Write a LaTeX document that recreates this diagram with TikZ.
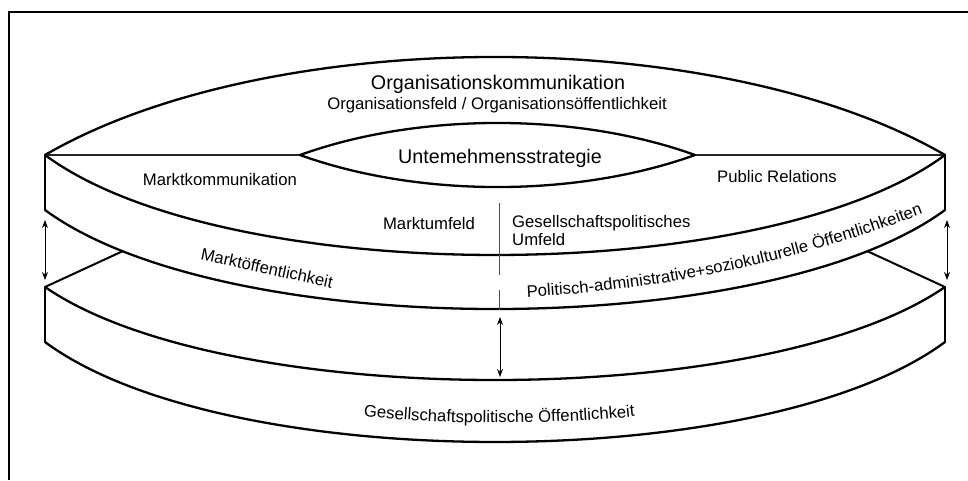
\documentclass[tikz,border=0pt]{standalone}
\usepackage{fontspec}
\setmainfont{Liberation Sans}
\usetikzlibrary{arrows.meta,decorations.text}
\begin{document}
\begin{tikzpicture}[x=1pt,y=-1pt,
  arcline/.style={line width=2.3pt, line join=round, line cap=round},
  thinline/.style={line width=1.3pt, black!85},
  sideline/.style={line width=2pt},
  framestroke/.style={line width=2.3pt},
  dbl/.style={line width=0.9pt, {Stealth[length=8pt,width=6pt]}-{Stealth[length=8pt,width=6pt]}},
  midline/.style={line width=0.9pt, black!70},
  lbl/.style={font=\fontsize{16.7}{19}\selectfont, inner sep=0pt},
  titletext/.style={font=\fontsize{19.7}{23}\selectfont, inner sep=0pt},
]
\useasboundingbox (0,0) rectangle (968,480);
\fill[white] (0,0) rectangle (968,480);

% frame
\coordinate (f1) at (9,480);
\coordinate (f2) at (9,12);
\coordinate (f3) at (968,12);
\draw[framestroke] (f1) -- (f2) -- (f3);

% key points
\coordinate (OL) at (45,155);
\coordinate (OR) at (945,155);
\coordinate (IL) at (300,155);
\coordinate (IR) at (695,155);
\coordinate (BL) at (45,210);
\coordinate (BR) at (945,210);
\coordinate (CL) at (45,287);
\coordinate (CR) at (945,287);
\coordinate (DL) at (45,342);
\coordinate (DR) at (945,342);

% outer top lens
\draw[arcline] (OL) .. controls (270,24.3) and (720,24.3) .. (OR);
% horizontal lines
\draw[thinline] (OL) -- (IL);
\draw[thinline] (IR) -- (OR);
% inner lens
\draw[arcline] (IL) .. controls (418.5,112.3) and (576.5,112.3) .. (IR);
\draw[arcline] (IL) .. controls (418.5,197.7) and (576.5,197.7) .. (IR);

% band curves
\draw[arcline] (OL) .. controls (225,288.3) and (765,288.3) .. (OR);
\draw[arcline] (BL) .. controls (225,342) and (765,342) .. (BR)
   coordinate[pos=0.118] (ML) coordinate[pos=0.882] (MR);
\draw[arcline] (CL) .. controls (225,411) and (765,411) .. (CR);
\draw[arcline] (DL) .. controls (225,475.3) and (765,475.3) .. (DR);

% vertical edges
\draw[sideline] (OL) -- (BL);
\draw[sideline] (OR) -- (BR);
\draw[sideline] (CL) -- (DL);
\draw[sideline] (CR) -- (DR);

% hidden top edge of lower disc
\draw[sideline] (CL) -- (ML);
\draw[sideline] (CR) -- (MR);

% central divider
\coordinate (d1) at (499,203);
\coordinate (d2) at (499,275);
\coordinate (d3) at (499,290);
\coordinate (d4) at (499,310);
\draw[midline] (d1) -- (d2);
\draw[midline] (d3) -- (d4);

% double arrows
\coordinate (la1) at (45,220);
\coordinate (la2) at (45,280);
\coordinate (ra1) at (947,220);
\coordinate (ra2) at (947,280);
\coordinate (ca1) at (500,317);
\coordinate (ca2) at (500,377);
\draw[dbl] (la1) -- (la2);
\draw[dbl] (ra1) -- (ra2);
\draw[dbl] (ca1) -- (ca2);

% labels
\node[titletext, anchor=base] (t1) at (498,89) {Organisationskommunikation};
\node[lbl, anchor=base] (t2) at (497,109) {Organisationsfeld / Organisationsöffentlichkeit};
\node[titletext, anchor=base] (t3) at (500,163) {Untemehmensstrategie};
\node[lbl, anchor=base] (t4) at (220,185) {Marktkommunikation};
\node[lbl, anchor=base] (t5) at (777,182) {Public Relations};
\node[lbl, anchor=base] (t6) at (429,229) {Marktumfeld};
\node[lbl, anchor=base west] (t7) at (512,227) {Gesellschaftspolitisches};
\node[lbl, anchor=base west] (t8) at (512,245) {Umfeld};
\node[lbl, rotate=-12.3] (t9) at (267,268) {Marktöffentlichkeit};

\path[decorate, decoration={text along path,
   text={|\fontsize{16.7}{19}\selectfont|Politisch-administrative+soziokulturelle Öffentlichkeiten},
   text align=left}]
   (527,297) .. controls (670.3,289.9) and (809.7,259.2) .. (945,205);

\path[decorate, decoration={text along path,
   text={|\fontsize{16.7}{19}\selectfont|Gesellschaftspolitische Öffentlichkeit},
   text align=center}]
   (49,325) .. controls (229,455.4) and (769,455.4) .. (949,325);
\end{tikzpicture}
\end{document}
